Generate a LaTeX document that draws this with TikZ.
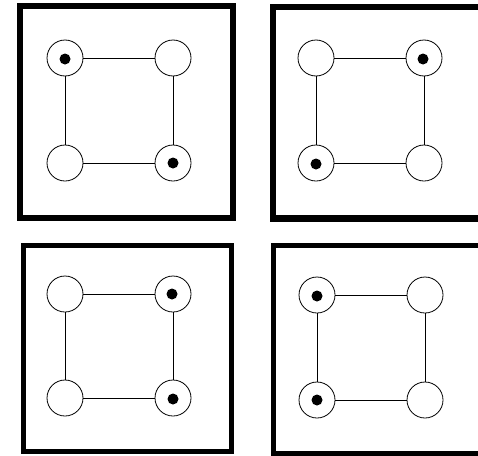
\documentclass[tikz,border=0pt]{standalone}
\begin{document}
\begin{tikzpicture}[x=1pt,y=-1pt,
  vtx/.style={circle,draw=black,line width=0.8pt,minimum size=36pt,inner sep=0pt,fill=white},
  edge/.style={draw=black,line width=0.8pt},
  frame/.style={draw=black,line width=6pt},
  dot/.style={circle,fill=black,minimum size=11pt,inner sep=0pt}]
\useasboundingbox (0,0) rectangle (478,455);
\clip (0,0) rectangle (478,455);
% frames
\draw[frame] (20,6) rectangle (233,218);
\draw[frame,line width=6.5pt] (273,7) rectangle (492,218.5);
\draw[frame,line width=5pt] (23,245) rectangle (231,451);
\draw[frame,line width=5pt] (273.5,245) rectangle (492,453);
% panel 1
\node[vtx] (a1) at (65,58) {};
\node[vtx] (a2) at (173,58) {};
\node[vtx] (a3) at (65,163) {};
\node[vtx] (a4) at (173,163) {};
\draw[edge] (a1) -- (a2);
\draw[edge] (a1) -- (a3);
\draw[edge] (a2) -- (a4);
\draw[edge] (a3) -- (a4);
\node[dot] (a1d) at (65,59) {};
\node[dot] (a4d) at (173,163) {};
% panel 2
\node[vtx] (b1) at (316,58) {};
\node[vtx] (b2) at (424,58) {};
\node[vtx] (b3) at (316,163) {};
\node[vtx] (b4) at (424,163) {};
\draw[edge] (b1) -- (b2);
\draw[edge] (b1) -- (b3);
\draw[edge] (b2) -- (b4);
\draw[edge] (b3) -- (b4);
\node[dot] (b2d) at (423,59) {};
\node[dot] (b3d) at (316,164) {};
% panel 3
\node[vtx] (c1) at (65,294) {};
\node[vtx] (c2) at (173,294) {};
\node[vtx] (c3) at (65,398) {};
\node[vtx] (c4) at (173,398) {};
\draw[edge] (c1) -- (c2);
\draw[edge] (c1) -- (c3);
\draw[edge] (c2) -- (c4);
\draw[edge] (c3) -- (c4);
\node[dot] (c2d) at (172,294) {};
\node[dot] (c4d) at (173,399) {};
% panel 4
\node[vtx] (d1) at (317,295) {};
\node[vtx] (d2) at (425,295) {};
\node[vtx] (d3) at (317,400) {};
\node[vtx] (d4) at (425,400) {};
\draw[edge] (d1) -- (d2);
\draw[edge] (d1) -- (d3);
\draw[edge] (d2) -- (d4);
\draw[edge] (d3) -- (d4);
\node[dot] (d1d) at (317,296) {};
\node[dot] (d3d) at (317,400) {};
\end{tikzpicture}
\end{document}
